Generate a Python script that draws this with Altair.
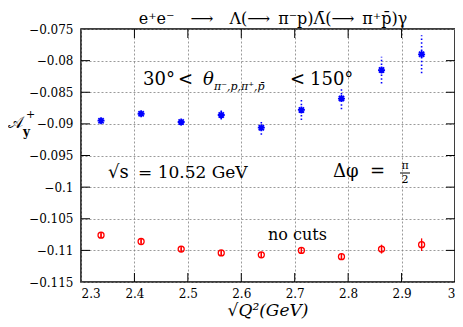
import altair as alt
import pandas as pd

# ---- data ----
q = [2.3375, 2.4125, 2.4875, 2.5625, 2.6375, 2.7125, 2.7875, 2.8625, 2.9375]
blue_y = [-0.0895, -0.0884, -0.0897, -0.0886, -0.0906, -0.0878, -0.0860, -0.0815, -0.0790]
blue_err = [0.0004, 0.0004, 0.0005, 0.0007, 0.0011, 0.0016, 0.0017, 0.0021, 0.0030]
red_y = [-0.1076, -0.1086, -0.1098, -0.1104, -0.1107, -0.1100, -0.1110, -0.1098, -0.1091]
red_err = [0.0003, 0.0003, 0.0003, 0.0004, 0.0004, 0.0005, 0.0005, 0.0007, 0.0010]
x_ticks = [2.3, 2.4, 2.5, 2.6, 2.7, 2.8, 2.9, 3.0]
y_ticks = [-0.115, -0.11, -0.105, -0.1, -0.095, -0.09, -0.085, -0.08, -0.075]

W, H = 374, 253
FONT = "DejaVu Serif"
TICK = 9

df_b = pd.DataFrame({"q": q, "a": blue_y,
                     "lo": [v - e for v, e in zip(blue_y, blue_err)],
                     "hi": [v + e for v, e in zip(blue_y, blue_err)]})
df_r = pd.DataFrame({"q": q, "a": red_y,
                     "lo": [v - e for v, e in zip(red_y, red_err)],
                     "hi": [v + e for v, e in zip(red_y, red_err)]})
df_xt = pd.DataFrame({"v": x_ticks[1:-1]})
df_yt = pd.DataFrame({"v": y_ticks[1:-1]})

xs = alt.Scale(domain=[2.3, 3.0], nice=False, zero=False)
ys = alt.Scale(domain=[-0.115, -0.075], nice=False, zero=False)

common_axis = dict(grid=True, gridDash=[2, 2], gridColor="#808080", gridWidth=0.8,
                   ticks=False, domain=False, labelFont=FONT, labelFontSize=12,
                   labelColor="black", title=None, labelOverlap=False)
xaxis = alt.Axis(values=x_ticks, format=".1~f", labelPadding=6, **common_axis)
yaxis = alt.Axis(values=y_ticks, format=".3~f", labelPadding=8, **common_axis)


def X(f):
    return alt.X(f, type="quantitative", scale=xs, axis=xaxis)


def Y(f):
    return alt.Y(f, type="quantitative", scale=ys, axis=yaxis)


ASTER = "M-1,0L1,0M0,-1L0,1M-0.75,-0.75L0.75,0.75M-0.75,0.75L0.75,-0.75"
PHI = "M1,0A1,1 0 1,1 -1,0A1,1 0 1,1 1,0M0,-1L0,1"

err_b = alt.Chart(df_b).mark_rule(color="blue", strokeWidth=1.6, strokeDash=[1.5, 2.2]).encode(
    x=X("q"), y=Y("lo"), y2="hi")
pts_b = alt.Chart(df_b).mark_point(shape=ASTER, filled=False, stroke="blue", strokeWidth=1.8,
                                   size=49, opacity=1).encode(x=X("q"), y=Y("a"))
err_r = alt.Chart(df_r).mark_rule(color="red", strokeWidth=1.3).encode(
    x=X("q"), y=Y("lo"), y2="hi")
pts_r = alt.Chart(df_r).mark_point(shape=PHI, filled=False, stroke="red", strokeWidth=1.3,
                                   size=36, opacity=1).encode(x=X("q"), y=Y("a"))

tick_b = alt.Chart(df_xt).mark_rule(color="black", strokeWidth=1).encode(
    x=X("v"), y=alt.value(H), y2=alt.value(H - TICK))
tick_t = alt.Chart(df_xt).mark_rule(color="black", strokeWidth=1).encode(
    x=X("v"), y=alt.value(0), y2=alt.value(TICK))
tick_l = alt.Chart(df_yt).mark_rule(color="black", strokeWidth=1).encode(
    y=Y("v"), x=alt.value(0), x2=alt.value(TICK))
tick_r = alt.Chart(df_yt).mark_rule(color="black", strokeWidth=1).encode(
    y=Y("v"), x=alt.value(W - TICK), x2=alt.value(W))


def txt(s, px, py, size, align="left", style="normal", weight="normal"):
    return alt.Chart(pd.DataFrame({"t": [s]})).mark_text(
        align=align, baseline="alphabetic", font=FONT, fontSize=size,
        fontStyle=style, fontWeight=weight, color="black").encode(
        x=alt.value(px), y=alt.value(py), text="t:N")


TITLE = "e⁺e⁻\u2003⟶\u2003Λ(⟶\u2002π⁻p)Λ̄(⟶\u2002π⁺p̄)γ"

texts = [
    # title
    txt(TITLE, 192, -5, 16, align="center"),
    # angle cut
    txt("30°", 62, 56, 18),
    txt("<", 97, 56, 18),
    txt("θ", 122, 56, 18, style="italic"),
    txt("π⁻,p,π⁺,p̄", 133, 61, 11, style="italic"),
    txt("<", 209, 56, 18),
    txt("150°", 229, 56, 18),
    # energy
    txt("√s", 27, 149, 18),
    txt("= 10.52 GeV", 57, 149, 17),
    # delta phi
    txt("Δφ", 252, 148, 18),
    txt("=", 289, 148, 18),
    txt("π", 324, 140, 11, align="center"),
    txt("2", 324, 154, 11, align="center"),
    txt("no cuts", 187, 211, 16),
    # x title
    txt("√Q²(GeV)", 187, 287, 17, align="center", style="italic"),
    # y title
    txt("𝒜", -73, 99, 16),
    txt("+", -55, 89, 11),
    txt("y", -58, 107, 12, weight="bold"),
]
frac = alt.Chart(pd.DataFrame({"t": [0]})).mark_rule(color="black", strokeWidth=1).encode(
    x=alt.value(319), x2=alt.value(329), y=alt.value(144))

chart = alt.layer(
    err_b, pts_b, err_r, pts_r, tick_b, tick_t, tick_l, tick_r, frac, *texts
).properties(
    width=W, height=H, autosize="none",
    padding={"left": 73, "top": 21, "right": 0, "bottom": 37},
).configure_view(stroke="black", strokeWidth=1.5)

chart.save("out.html", embed_options={"renderer": "svg", "actions": False})
